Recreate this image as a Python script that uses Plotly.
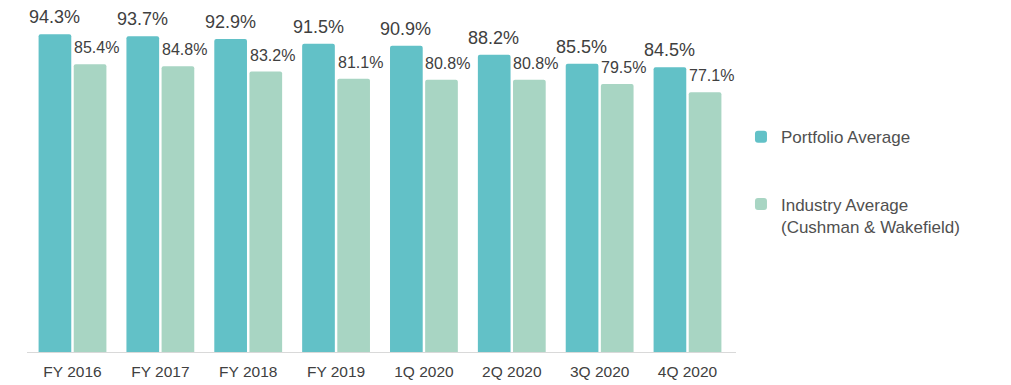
import plotly.graph_objects as go

categories = ["FY 2016", "FY 2017", "FY 2018", "FY 2019", "1Q 2020", "2Q 2020", "3Q 2020", "4Q 2020"]
portfolio = [94.3, 93.7, 92.9, 91.5, 90.9, 88.2, 85.5, 84.5]
industry = [85.4, 84.8, 83.2, 81.1, 80.8, 80.8, 79.5, 77.1]
series_names = ["Portfolio Average", "Industry Average<br>(Cushman & Wakefield)"]

FONT = "Liberation Sans, Arial, sans-serif"

fig = go.Figure()
fig.add_trace(go.Bar(
    x=categories, y=portfolio, name=series_names[0], legendgroup="a",
    marker=dict(color="#62C1C7", line=dict(width=0)),
))
fig.add_trace(go.Bar(
    x=categories, y=industry, name=series_names[1], legendgroup="b",
    marker=dict(color="#A8D5C3", line=dict(width=0)),
))

ann = []
for c, v in zip(categories, portfolio):
    ann.append(dict(x=c, y=v, xref="x", yref="y", text=f"{v:.1f}%", showarrow=False,
                    xshift=-18, yshift=5, yanchor="bottom",
                    font=dict(size=18, color="#404040", family=FONT)))
for c, v in zip(categories, industry):
    ann.append(dict(x=c, y=v, xref="x", yref="y", text=f"{v:.1f}%", showarrow=False,
                    xshift=24, yshift=6, yanchor="bottom",
                    font=dict(size=16, color="#404040", family=FONT)))

fig.update_layout(
    width=1011, height=385,
    margin=dict(l=19, r=283, t=7, b=41, autoexpand=False),
    paper_bgcolor="white", plot_bgcolor="white",
    barmode="group", bargap=0.2, bargroupgap=0.07,
    barcornerradius=2,
    font=dict(family=FONT, color="#444444"),
    annotations=ann,
    showlegend=True,
    legend=dict(
        xref="container", yref="container", x=0.725, y=0.711,
        xanchor="left", yanchor="top",
        font=dict(size=17, color="#505050", family=FONT),
        traceorder="grouped", tracegroupgap=42, valign="top",
        itemwidth=30,
    ),
)
fig.update_xaxes(
    showline=True, linecolor="#D9D9D9", linewidth=1, ticks="",
    tickfont=dict(size=15.5, color="#404040", family=FONT),
    ticklabelstandoff=5,
    showgrid=False, automargin=False,
)
fig.update_yaxes(range=[0, 100], visible=False, showgrid=False)

fig.write_html("out.html")
